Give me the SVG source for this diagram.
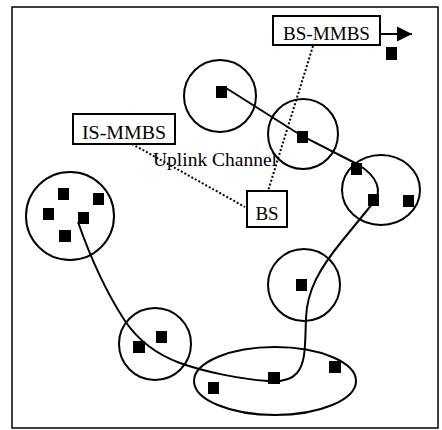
<svg xmlns="http://www.w3.org/2000/svg" width="442" height="430" viewBox="0 0 442 430">
<defs>
<style>
.frame{fill:none;stroke:#000;stroke-width:1.5}
.cell{fill:none;stroke:#000;stroke-width:2}
.box{fill:#fff;stroke:#000;stroke-width:2}
.sq{fill:#000}
.lbl{font-family:"Liberation Serif","Times New Roman",serif;font-size:19px;fill:#000}
.path{fill:none;stroke:#000;stroke-width:2}
.dot{fill:none;stroke:#000;stroke-width:2;stroke-dasharray:2 2}
</style>
<marker id="arr" markerWidth="16" markerHeight="16" refX="15" refY="8" orient="auto" markerUnits="userSpaceOnUse">
<path d="M0,0.5 L15,8 L0,15.5 Z" fill="#000"/>
</marker>
</defs>
<rect class="frame" x="12" y="7" width="426" height="421"/>
<g id="connectors">
<path class="path" d="M226 88 L302 136 L357 164 C378 176 383 192 373 203 L342 241 C320 268 307 290 306 318 C305 345 306 362 297 373 C290 381 280 382 268 381 C240 379 205 372 180 363 C158 355 140 343 125 321 C108 295 92 262 78 222"/>
<line class="dot" x1="125" y1="140" x2="245" y2="207"/>
<line class="dot" x1="313" y1="46" x2="268" y2="191"/>
<line x1="380" y1="34" x2="412" y2="34" stroke="#000" stroke-width="2" marker-end="url(#arr)"/>
</g>
<g id="cell1"><circle class="cell" cx="220" cy="96" r="36"/><rect class="sq" x="216" y="86" width="11" height="12"/></g>
<g id="cell2"><circle class="cell" cx="303" cy="134" r="35"/><rect class="sq" x="297" y="131" width="11" height="12"/></g>
<g id="cell3"><ellipse class="cell" cx="381" cy="190" rx="39" ry="35"/><rect class="sq" x="351" y="163" width="11" height="12"/><rect class="sq" x="368" y="194" width="11" height="12"/><rect class="sq" x="403" y="195" width="11" height="12"/></g>
<g id="cluster"><circle class="cell" cx="70" cy="216" r="44"/><rect class="sq" x="58" y="188" width="11" height="12"/><rect class="sq" x="93" y="193" width="11" height="12"/><rect class="sq" x="43" y="208" width="11" height="12"/><rect class="sq" x="78" y="212" width="11" height="12"/><rect class="sq" x="59" y="230" width="12" height="12"/></g>
<g id="cell4"><circle class="cell" cx="304" cy="285" r="36"/><rect class="sq" x="296" y="279" width="11" height="12"/></g>
<g id="cell5"><circle class="cell" cx="155" cy="344" r="36"/><rect class="sq" x="133" y="341" width="12" height="12"/><rect class="sq" x="156" y="331" width="11" height="12"/></g>
<g id="cell6"><ellipse class="cell" cx="275" cy="381" rx="81" ry="34"/><rect class="sq" x="208" y="382" width="11" height="12"/><rect class="sq" x="268" y="372" width="12" height="12"/><rect class="sq" x="329" y="361" width="12" height="12"/></g>
<g id="bs-mmbs"><rect class="box" x="273" y="16" width="107" height="29"/><text class="lbl" x="326.5" y="40" text-anchor="middle" textLength="87" lengthAdjust="spacingAndGlyphs">BS-MMBS</text></g>
<g id="mobile"><rect class="sq" x="386" y="47" width="11" height="13"/></g>
<g id="is-mmbs"><rect class="box" x="73" y="114" width="102" height="30"/><text class="lbl" x="124" y="139" text-anchor="middle" textLength="84" lengthAdjust="spacingAndGlyphs">IS-MMBS</text></g>
<g id="bs"><rect class="box" x="247" y="191" width="40" height="36"/><text class="lbl" x="267" y="220" text-anchor="middle">BS</text></g>
<g id="uplink"><text class="lbl" x="153" y="166" textLength="124" lengthAdjust="spacingAndGlyphs">Uplink Channel</text></g>
</svg>
